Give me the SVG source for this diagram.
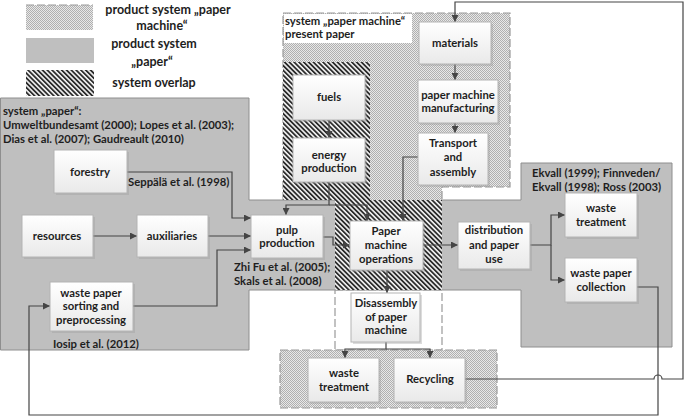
<svg xmlns="http://www.w3.org/2000/svg" width="685" height="416" viewBox="0 0 685 416">
<defs>
  <pattern id="dots" patternUnits="userSpaceOnUse" width="2" height="2">
    <rect width="2" height="2" fill="#e8e8e8"/>
    <rect x="0" y="0" width="1" height="1" fill="#b0b0b0"/>
    <rect x="1" y="1" width="1" height="1" fill="#b0b0b0"/>
  </pattern>
  <pattern id="hatch" patternUnits="userSpaceOnUse" width="3.4" height="8" patternTransform="rotate(-45)">
    <rect width="3.4" height="8" fill="#f4f4f4"/>
    <rect x="0" y="0" width="1.8" height="8" fill="#2b2b2b"/>
  </pattern>
  <linearGradient id="boxg" x1="0" y1="0" x2="0" y2="1">
    <stop offset="0" stop-color="#ffffff"/>
    <stop offset="1" stop-color="#e9e9e9"/>
  </linearGradient>
  <marker id="arr" markerUnits="userSpaceOnUse" markerWidth="8" markerHeight="7" refX="7" refY="3.5" orient="auto">
    <path d="M0,0 L7,3.5 L0,7 z" fill="#454545"/>
  </marker>
  <style>
    text { font-family: Lato, "Liberation Sans", sans-serif; font-weight: bold; font-size: 11.3px; fill: #1e1e1e; }
    .c { text-anchor: middle; }
    .lg { font-size: 12.5px; }
    .box { fill: url(#boxg); stroke: #b4b4b4; stroke-width: 1; }
    .sh { fill: #9a9a9a; opacity: 0.35; }
    .ln { fill: none; stroke: #454545; stroke-width: 1.2; }
    .dash { fill: none; stroke: #9a9a9a; stroke-width: 1.2; stroke-dasharray: 8 3; }
  </style>
</defs>

<g id="legend">
  <rect x="26" y="5" width="67" height="25" fill="url(#dots)"/>
  <line x1="26" y1="5" x2="93" y2="5" class="dash"/>
  <rect x="26" y="38" width="68" height="25" fill="#bfbfbf"/>
  <rect x="26" y="70" width="68" height="26" fill="url(#hatch)"/>
  <text class="lg c" x="168" y="14">product system „paper</text>
  <text class="lg c" x="162" y="30">machine“</text>
  <text class="lg c" x="154" y="48">product system</text>
  <text class="lg c" x="152" y="66">„paper“</text>
  <text class="lg c" x="154" y="87">system overlap</text>
</g>

<g id="systems">
  <path id="sys-paper" d="M0.5,98 H249 V200 H521 V163 H672 V347 H521 V290 H249 V350 H0.5 Z" fill="#bfbfbf" stroke="#8e8e8e" stroke-width="1"/>
  <path id="sys-pm-upper" d="M283,13 H510 V187 H442 V200 H283 Z" fill="url(#dots)"/>
  <path d="M283,200 V13 H510 V187 H442 V200" class="dash"/>
  <rect x="284" y="14" width="128" height="29" fill="#ffffff"/>
  <rect id="sys-pm-lower-col" x="335" y="290" width="107" height="60" fill="url(#dots)" class="dash"/>
  <rect id="sys-pm-lower" x="280" y="350" width="217" height="58" fill="url(#dots)"/>
  <rect x="280" y="350" width="217" height="58" class="dash"/>
  <path id="sys-overlap" d="M283,62 H370 V200 H442 V290 H335 V200 H283 Z" fill="url(#hatch)"/>
</g>

<g id="labels">
  <text x="285" y="25">system „paper machine“</text>
  <text x="285" y="38">present paper</text>
  <text x="3" y="115">system „paper“:</text>
  <text x="3" y="129">Umweltbundesamt (2000); Lopes et al. (2003);</text>
  <text x="3" y="143">Dias et al. (2007); Gaudreault (2010)</text>
  <text x="128" y="186">Seppälä et al. (1998)</text>
  <text x="234" y="271">Zhi Fu et al. (2005);</text>
  <text x="234" y="285">Skals et al. (2008)</text>
  <text x="53" y="348">Iosip et al. (2012)</text>
  <text x="532" y="177">Ekvall (1999); Finnveden/</text>
  <text x="532" y="191">Ekvall (1998); Ross (2003)</text>
</g>

<g id="connectors">
  <line class="ln" x1="455" y1="64" x2="455" y2="80" marker-end="url(#arr)"/>
  <line class="ln" x1="455" y1="123" x2="455" y2="133" marker-end="url(#arr)"/>
  <line class="ln" x1="329" y1="120" x2="329" y2="138" marker-end="url(#arr)"/>
  <path class="ln" d="M329,182 V205 H286 V215" marker-end="url(#arr)"/>
  <path class="ln" d="M329,205 H367 V221" marker-end="url(#arr)"/>
  <path class="ln" d="M418,157 H403 V221" marker-end="url(#arr)"/>
  <path class="ln" d="M127,172 H232 V218 H251" marker-end="url(#arr)"/>
  <line class="ln" x1="93" y1="236" x2="137" y2="236" marker-end="url(#arr)"/>
  <line class="ln" x1="208" y1="236" x2="251" y2="236" marker-end="url(#arr)"/>
  <path class="ln" d="M133,306 H217 V250 H251" marker-end="url(#arr)"/>
  <path class="ln" d="M323,237 H333 V245 H350" marker-end="url(#arr)"/>
  <line class="ln" x1="423" y1="245" x2="458" y2="245" marker-end="url(#arr)"/>
  <path class="ln" d="M530,245 H551 V215 H565" marker-end="url(#arr)"/>
  <path class="ln" d="M551,245 V280 H565" marker-end="url(#arr)"/>
  <line class="ln" x1="387" y1="270" x2="387" y2="293" marker-end="url(#arr)"/>
  <path class="ln" d="M386,342 V349 H345 V358" marker-end="url(#arr)"/>
  <path class="ln" d="M386,349 H430 V358" marker-end="url(#arr)"/>
  <path class="ln" d="M637,287 H658 V415 H29 V306 H50" marker-end="url(#arr)"/>
  <path class="ln" d="M465,379 H654 A4,4 0 0 1 662,379 H683 V2 H455 V22" marker-end="url(#arr)"/>
</g>

<g id="n-materials"><rect class="sh" x="421" y="24" width="72" height="42"/><rect class="box" x="419" y="22" width="72" height="42"/><text class="c" x="455" y="47">materials</text></g>
<g id="n-pmm"><rect class="sh" x="420" y="82" width="80" height="43"/><rect class="box" x="418" y="80" width="80" height="43"/><text class="c" x="458" y="99">paper machine</text><text class="c" x="458" y="112">manufacturing</text></g>
<g id="n-transport"><rect class="sh" x="420" y="135" width="70" height="52"/><rect class="box" x="418" y="133" width="70" height="52"/><text class="c" x="453" y="147">Transport</text><text class="c" x="453" y="161">and</text><text class="c" x="453" y="176">assembly</text></g>
<g id="n-fuels"><rect class="sh" x="295" y="77" width="72" height="45"/><rect class="box" x="293" y="75" width="72" height="45"/><text class="c" x="329" y="101">fuels</text></g>
<g id="n-energy"><rect class="sh" x="295" y="140" width="72" height="44"/><rect class="box" x="293" y="138" width="72" height="44"/><text class="c" x="329" y="159">energy</text><text class="c" x="329" y="172">production</text></g>
<g id="n-forestry"><rect class="sh" x="56" y="152" width="73" height="43"/><rect class="box" x="54" y="150" width="73" height="43"/><text class="c" x="90" y="176">forestry</text></g>
<g id="n-resources"><rect class="sh" x="24" y="217" width="71" height="42"/><rect class="box" x="22" y="215" width="71" height="42"/><text class="c" x="57" y="240">resources</text></g>
<g id="n-auxiliaries"><rect class="sh" x="139" y="217" width="71" height="42"/><rect class="box" x="137" y="215" width="71" height="42"/><text class="c" x="172" y="240">auxiliaries</text></g>
<g id="n-pulp"><rect class="sh" x="253" y="217" width="72" height="43"/><rect class="box" x="251" y="215" width="72" height="43"/><text class="c" x="287" y="234">pulp</text><text class="c" x="287" y="247">production</text></g>
<g id="n-operations"><rect class="sh" x="352" y="223" width="73" height="49"/><rect class="box" x="350" y="221" width="73" height="49"/><text class="c" x="386" y="235">Paper</text><text class="c" x="386" y="249">machine</text><text class="c" x="386" y="263">operations</text></g>
<g id="n-distribution"><rect class="sh" x="460" y="224" width="72" height="47"/><rect class="box" x="458" y="222" width="72" height="47"/><text class="c" x="494" y="234">distribution</text><text class="c" x="494" y="249">and paper</text><text class="c" x="494" y="263">use</text></g>
<g id="n-waste-treatment-r"><rect class="sh" x="567" y="195" width="72" height="44"/><rect class="box" x="565" y="193" width="72" height="44"/><text class="c" x="601" y="212">waste</text><text class="c" x="601" y="226">treatment</text></g>
<g id="n-collection"><rect class="sh" x="567" y="260" width="72" height="44"/><rect class="box" x="565" y="258" width="72" height="44"/><text class="c" x="601" y="277">waste paper</text><text class="c" x="601" y="291">collection</text></g>
<g id="n-sorting"><rect class="sh" x="52" y="284" width="83" height="49"/><rect class="box" x="50" y="282" width="83" height="49"/><text class="c" x="91" y="297">waste paper</text><text class="c" x="91" y="310">sorting and</text><text class="c" x="91" y="324">preprocessing</text></g>
<g id="n-disassembly"><rect class="sh" x="353" y="295" width="69" height="49"/><rect class="box" x="351" y="293" width="69" height="49"/><text class="c" x="386" y="307">Disassembly</text><text class="c" x="386" y="321">of paper</text><text class="c" x="386" y="334">machine</text></g>
<g id="n-waste-treatment-b"><rect class="sh" x="310" y="360" width="71" height="44"/><rect class="box" x="308" y="358" width="71" height="44"/><text class="c" x="344" y="377">waste</text><text class="c" x="344" y="391">treatment</text></g>
<g id="n-recycling"><rect class="sh" x="396" y="360" width="71" height="44"/><rect class="box" x="394" y="358" width="71" height="44"/><text class="c" x="430" y="383">Recycling</text></g>
</svg>
